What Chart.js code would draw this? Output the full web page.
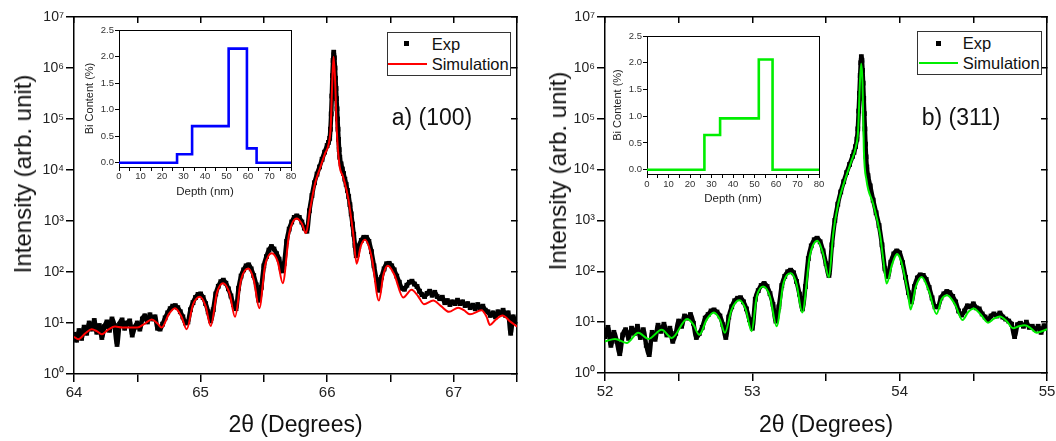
<!DOCTYPE html>
<html><head><meta charset="utf-8">
<script src="https://cdn.jsdelivr.net/npm/chart.js@4/dist/chart.umd.min.js"></script>
<style>
html,body{margin:0;padding:0;background:#fff;}
#wrap{position:relative;width:1056px;height:441px;overflow:hidden;font-family:"Liberation Sans",Arial,sans-serif;color:#111;}
canvas{position:absolute;}
.t{position:absolute;white-space:nowrap;line-height:1;}
.yt{position:absolute;white-space:nowrap;line-height:1;font-size:24px;transform:translate(-50%,-50%) rotate(-90deg);}
.lgbox{position:absolute;box-sizing:border-box;border:1px solid #333;background:#fff;}
.mk{position:absolute;background:#000;}
.ln{position:absolute;height:2px;}
</style></head>
<body><div id="wrap">
<canvas id="mainA" width="528" height="441" style="left:0;top:0;width:528px;height:441px"></canvas>
<canvas id="mainB" width="528" height="441" style="left:528px;top:0;width:528px;height:441px"></canvas>
<canvas id="insA" width="240" height="190" style="left:60px;top:20px;width:240px;height:190px"></canvas>
<canvas id="insB" width="240" height="190" style="left:590px;top:20px;width:240px;height:190px"></canvas>

<div class="yt" style="left:23px;top:174px">Intensity (arb. unit)</div>
<div class="yt" style="left:558px;top:171px">Intensity (arb. unit)</div>

<div class="lgbox" style="left:387px;top:32px;width:124px;height:44px"></div>
<div class="mk" style="left:404px;top:41px;width:5px;height:5px"></div>
<div class="t" style="left:431.7px;top:35.5px;font-size:16.5px">Exp</div>
<div class="ln" style="left:388px;top:62.7px;width:39px;background:#ff0000"></div>
<div class="t" style="left:431.7px;top:55.5px;font-size:16.5px">Simulation</div>

<div class="lgbox" style="left:917px;top:31px;width:125px;height:44px"></div>
<div class="mk" style="left:936px;top:40.5px;width:5px;height:5px"></div>
<div class="t" style="left:962.7px;top:34.8px;font-size:16.5px">Exp</div>
<div class="ln" style="left:919px;top:62px;width:39px;background:#00ee00"></div>
<div class="t" style="left:962.7px;top:54.8px;font-size:16.5px">Simulation</div>

<div class="t" style="left:391.7px;top:106.3px;font-size:23px">a) (100)</div>
<div class="t" style="left:921.7px;top:106.3px;font-size:23px">b) (311)</div>
</div>
<script>
// ---------- data ----------
const xTicksA = [64, 64.5, 65, 65.5, 66, 66.5, 67, 67.5];
const xTicksB = [52, 52.5, 53, 53.5, 54, 54.5, 55];
const yDecades = [1, 10, 100, 1000, 10000, 100000, 1000000, 10000000];
const depthTicks = [0,5,10,15,20,25,30,35,40,45,50,55,60,65,70,75,80];
const biTicks = [0,0.25,0.5,0.75,1,1.25,1.5,1.75,2,2.25,2.5];

// (100) simulation [2theta, intensity]
const simA = [[64.000,5.37],[64.034,4.79],[64.09,6.31],[64.140,7.52],[64.18,6.92],[64.219,6.03],[64.27,7.41],[64.324,8.51],[64.38,8.13],[64.427,8.13],[64.50,8.13],[64.56,9.77],[64.614,11.7],[64.66,9.77],[64.693,8.13],[64.75,15.1],[64.798,19.5],[64.85,13.2],[64.890,7.52],[64.94,22.9],[64.995,32.8],[65.04,21.4],[65.080,8.71],[65.13,39.8],[65.179,60.3],[65.23,37.2],[65.272,13.2],[65.32,70.8],[65.377,117],[65.42,70.8],[65.464,19.5],[65.51,135],[65.562,234],[65.61,158],[65.649,60.3],[65.70,562],[65.759,1122],[65.80,891],[65.833,575],[65.864,1622],[65.904,5370],[65.943,10715],[65.983,20893],[66.009,30200],[66.028,69183],[66.040,489779],[66.051,1659587],[66.064,489779],[66.075,69183],[66.096,13183],[66.127,7244],[66.167,2754],[66.206,562],[66.233,145],[66.265,316],[66.299,427],[66.352,195],[66.409,27.5],[66.445,89.1],[66.480,132],[66.53,89.1],[66.601,31.6],[66.667,44.7],[66.72,33.1],[66.765,23.4],[66.838,27.5],[66.90,21.4],[66.962,16.6],[67.036,20.0],[67.08,17.8],[67.128,14.8],[67.220,17.8],[67.26,13.2],[67.286,9.12],[67.33,11.5],[67.385,14.1],[67.45,10.5],[67.50,8.51]];

// (100) experiment
const expA = [[64.00,6.0],[64.02,4.6],[64.04,7.1],[64.06,5.0],[64.08,8.3],[64.10,6.3],[64.12,10.0],[64.14,7.6],[64.16,11.2],[64.18,6.6],[64.20,8.9],[64.22,5.2],[64.24,8.5],[64.26,10.5],[64.28,7.2],[64.30,12.0],[64.32,8.9],[64.34,3.8],[64.36,9.5],[64.38,11.5],[64.40,7.9],[64.42,10.0],[64.44,11.0],[64.46,5.8],[64.48,8.3],[64.50,10.0],[64.52,7.6],[64.54,12.0],[64.56,13.8],[64.58,10.5],[64.60,14.5],[64.62,12.0],[64.64,13.2],[64.66,7.9],[64.68,7.6],[64.70,9.5],
[64.72,12.6],[64.74,15.8],[64.76,19.1],[64.78,21.4],[64.80,21.9],[64.82,20.0],[64.84,16.6],[64.86,13.2],[64.88,10.0],[64.90,10.5],[64.92,18.2],[64.94,25.1],[64.96,31.6],[64.98,36.3],[65.00,37.2],[65.02,31.6],[65.04,24.0],[65.06,16.6],[65.08,11.0],[65.10,18.2],[65.12,37.2],[65.14,52.5],[65.16,64.6],[65.18,69.2],[65.20,60.3],[65.22,46.8],[65.24,33.9],[65.26,22.9],[65.28,19.1],[65.30,47.9],[65.32,83.2],[65.34,110],[65.36,132],[65.38,138],[65.40,115],[65.42,85],[65.44,56],[65.46,28],[65.48,50],[65.50,132],[65.52,200],[65.54,269],[65.56,316],[65.58,282],[65.60,229],[65.62,178],[65.64,105],[65.66,145],[65.68,398],[65.70,692],[65.72,955],[65.74,1175],[65.76,1259],[65.78,1175],[65.80,955],[65.82,724],[65.84,631],
[65.86,1585],[65.88,3162],[65.90,5623],[65.92,8318],[65.94,11482],[65.96,16218],[65.98,22387],[66.00,30200],[66.01,34674],[66.02,41687],[66.026,63096],[66.032,125893],[66.037,281838],[66.042,707946],[66.047,1412538],[66.052,2041738],[66.057,1584893],[66.062,1000000],[66.066,630957],[66.070,398107],[66.074,251189],[66.078,158489],[66.082,100000],[66.086,63096],[66.090,39811],[66.095,25119],[66.100,17783],[66.11,13183],[66.12,10471],[66.13,8511],[66.14,6607],[66.15,5248],[66.16,3981],[66.17,3020],[66.18,2089],[66.19,1380],[66.20,871],[66.21,550],[66.22,331],[66.23,209],[66.24,224],[66.25,316],[66.27,417],[66.29,479],[66.31,479],[66.33,398],[66.35,251],[66.37,132],[66.39,71],[66.41,44],[66.43,79],[66.45,115],[66.47,145],[66.49,148],[66.51,132],[66.53,110],[66.55,83],[66.57,63],[66.59,48],[66.61,46],[66.63,55],[66.65,63],[66.67,66],[66.69,58],[66.71,52],[66.73,42],[66.75,36],[66.77,33],[66.79,38],[66.81,42],[66.83,35],[66.85,40],[66.87,33],[66.89,30],[66.91,32],[66.93,25],[66.95,27.5],[66.97,23],[66.99,26],[67.01,24],[67.03,28],[67.05,24],[67.07,26],[67.09,22],[67.11,24],[67.13,20],[67.15,22.4],[67.17,19],[67.19,23],[67.21,20],[67.23,21.4],[67.25,17.8],[67.27,16.6],[67.29,14.1],[67.31,15.8],[67.33,13.2],[67.35,16.6],[67.37,15.1],[67.39,17.8],[67.41,14.1],[67.43,15.8],[67.45,6.3],[67.47,13.2],[67.49,10.5],[67.50,11.2]];

// (311) simulation
const simB = [[52.000,4.17],[52.068,4.68],[52.147,3.89],[52.226,6.17],[52.294,4.68],[52.385,7.08],[52.453,4.90],[52.558,11.5],[52.60,8.91],[52.640,5.62],[52.69,11.2],[52.739,15.5],[52.78,11.2],[52.814,6.17],[52.86,17.8],[52.911,26.9],[52.955,17.8],[52.995,6.61],[53.03,31.6],[53.074,50.1],[53.12,31.6],[53.165,8.32],[53.21,56.2],[53.262,91.2],[53.30,56.2],[53.339,15.5],[53.39,200],[53.442,398],[53.48,224],[53.520,75.9],[53.549,550],[53.583,2138],[53.628,6166],[53.674,15136],[53.703,28184],[53.718,58884],[53.730,489779],[53.739,1202264],[53.748,489779],[53.757,23988],[53.775,6166],[53.820,2138],[53.866,550],[53.89,158],[53.911,57.5],[53.95,141],[53.983,219],[54.01,158],[54.035,77.6],[54.055,39.8],[54.074,17.8],[54.11,50.1],[54.149,77.6],[54.20,39.8],[54.250,14.5],[54.285,28.2],[54.322,33.9],[54.375,22.4],[54.427,11.0],[54.465,15.8],[54.503,18.6],[54.55,14.1],[54.600,9.77],[54.64,11.7],[54.680,12.9],[54.725,10.5],[54.770,7.59],[54.81,8.32],[54.849,8.71],[54.89,7.59],[54.929,6.17],[54.965,6.61],[55.000,7.24]];

// (311) experiment
const expB = [[52.00,5.2],[52.02,7.9],[52.04,3.5],[52.06,6.3],[52.08,4.2],[52.10,2.4],[52.12,5.6],[52.14,7.1],[52.16,4.8],[52.18,7.6],[52.20,6.0],[52.22,8.3],[52.24,5.0],[52.26,7.1],[52.28,3.5],[52.30,2.3],[52.32,6.3],[52.34,4.6],[52.36,8.7],[52.38,6.6],[52.40,9.1],[52.42,5.6],[52.44,7.6],[52.46,4.2],[52.48,6.0],[52.50,10.5],[52.52,8.3],[52.54,13.2],[52.56,12.0],[52.58,14.1],[52.60,9.5],[52.62,5.0],[52.64,6.0],[52.66,7.9],[52.68,12.0],[52.70,14.1],[52.72,16.6],[52.74,17.4],[52.76,15.8],[52.78,13.2],[52.80,8.9],[52.82,5.0],[52.84,12.6],[52.86,20.0],[52.88,26.3],[52.90,29.5],[52.92,30.2],[52.94,25.1],[52.96,18.2],[52.98,11.2],[53.00,7.6],[53.02,28.2],[53.04,41.7],[53.06,52.5],[53.08,57.5],[53.10,50.1],[53.12,36.3],[53.14,22.4],[53.16,10.5],[53.18,20.0],[53.20,52.5],[53.22,79.4],[53.24,97.7],[53.26,105],[53.28,93.3],[53.30,63.1],[53.32,35.5],[53.34,18.2],[53.36,50.1],[53.38,178],[53.40,316],[53.42,417],[53.44,447],[53.46,380],[53.48,251],[53.50,141],[53.52,83],[53.54,331],[53.56,1000],[53.58,2089],[53.60,3631],[53.62,5754],[53.64,8710],[53.66,12589],[53.68,18197],[53.69,21878],[53.70,28184],[53.71,39811],[53.716,63096],[53.722,141254],[53.727,316228],[53.732,707946],[53.736,1258925],[53.740,1659587],[53.744,1412538],[53.748,891251],[53.752,501187],[53.756,251189],[53.760,125893],[53.764,63096],[53.768,31623],[53.772,17783],[53.777,11220],[53.785,7586],[53.80,4786],[53.82,2512],[53.84,1413],[53.86,794],[53.88,331],[53.90,112],[53.92,79],[53.94,151],[53.96,219],[53.98,251],[54.00,229],[54.02,148],[54.04,76],[54.06,38],[54.08,25],[54.10,50],[54.12,74],[54.14,85],[54.16,83],[54.18,69],[54.20,48],[54.22,30],[54.24,20],[54.26,20],[54.28,30],[54.30,36],[54.32,40],[54.34,38],[54.36,32],[54.38,25],[54.40,16.6],[54.42,13.8],[54.44,16.6],[54.46,20.9],[54.48,20.0],[54.50,22.9],[54.52,19.1],[54.54,18.2],[54.56,14.5],[54.58,12.6],[54.60,11.2],[54.62,13.2],[54.64,14.5],[54.66,13.2],[54.68,15.1],[54.70,12.6],[54.72,11.5],[54.74,10.5],[54.76,9.1],[54.78,5.2],[54.80,8.9],[54.82,9.5],[54.84,8.3],[54.86,10.0],[54.88,7.9],[54.90,8.3],[54.92,7.2],[54.94,8.3],[54.96,6.3],[54.98,8.5],[55.00,7.6]];

// inset depth profiles (step edges, nm) and Bi content (%)
const depthA = [0, 27, 34, 51, 59.5, 64, 80];
const biA    = [0, 0.16, 0.69, 2.15, 0.27, 0, 0];
const depthB = [0, 26.7, 34, 52, 58.4, 80];
const biB    = [0, 0.65, 0.96, 2.06, 0, 0];

// ---------- rendering ----------
const FONT = '"Liberation Sans", Arial, sans-serif';
Chart.defaults.font.family = FONT;
const SUP = ['⁰','¹','²','³','⁴','⁵','⁶','⁷'];
const pts = a => a.map(p => ({x: p[0], y: p[1]}));

function mainChart(id, sim, exp, simColor, xTicks, area, W, H) {
  const xmin = xTicks[0], xmax = xTicks[xTicks.length - 1];
  const brd = {color: '#000', width: 1.5};
  const setX = s => { s.ticks = xTicks.map(v => ({value: v})); };
  const setY = s => { s.ticks = yDecades.map(v => ({value: v})); };
  return new Chart(document.getElementById(id), {
    type: 'scatter',
    data: {datasets: [
      {label: 'Simulation', data: pts(sim), showLine: true, borderColor: simColor, borderWidth: 2,
       pointRadius: 0, cubicInterpolationMode: 'monotone', order: 0},
      {label: 'Exp', data: pts(exp), showLine: true, borderColor: '#000', backgroundColor: '#000',
       borderWidth: 4.5, pointStyle: 'rect', pointRadius: 3.4, pointBorderWidth: 0,
       cubicInterpolationMode: 'monotone', order: 1}
    ]},
    options: {
      responsive: false, animation: false, devicePixelRatio: 1,
      layout: {padding: 0},
      plugins: {legend: {display: false}, tooltip: {enabled: false}},
      scales: {
        x: {type: 'linear', position: 'bottom', min: xmin, max: xmax,
          afterBuildTicks: setX,
          afterFit: s => { s.height = H - area.bottom; s.paddingLeft = 0; s.paddingRight = 0; },
          ticks: {autoSkip: false, maxRotation: 0, minRotation: 0, padding: 2, color: '#222',
                  font: {size: 15}, callback: v => Number.isInteger(v) ? String(v) : ''},
          grid: {drawOnChartArea: false, tickLength: 8, color: '#000', lineWidth: 1.5},
          border: brd,
          title: {display: true, text: '2θ (Degrees)', color: '#111', font: {size: 23},
                  padding: {top: 0, bottom: 2}}},
        xTop: {type: 'linear', position: 'top', min: xmin, max: xmax,
          afterBuildTicks: setX,
          afterFit: s => { s.height = area.top; s.paddingLeft = 0; s.paddingRight = 0; },
          ticks: {display: false},
          grid: {drawOnChartArea: false, tickLength: -6, color: '#000', lineWidth: 1.5},
          border: brd},
        y: {type: 'logarithmic', position: 'left', min: 1, max: 1e7,
          afterBuildTicks: setY,
          afterFit: s => { s.width = area.left; s.paddingTop = 0; s.paddingBottom = 0; },
          ticks: {padding: 2, color: '#222', font: {size: 14},
                  callback: v => '10' + SUP[Math.round(Math.log10(v))]},
          grid: {drawOnChartArea: false, tickLength: 8, color: '#000', lineWidth: 1.5},
          border: brd},
        yRight: {type: 'logarithmic', position: 'right', min: 1, max: 1e7,
          afterBuildTicks: setY,
          afterFit: s => { s.width = W - area.right; s.paddingTop = 0; s.paddingBottom = 0; },
          ticks: {display: false},
          grid: {drawOnChartArea: false, tickLength: -6, color: '#000', lineWidth: 1.5},
          border: brd}
      }
    }
  });
}

function insetChart(id, depth, bi, color, area, W, H, pad) {
  const brd = {color: '#000', width: 1};
  return new Chart(document.getElementById(id), {
    type: 'scatter',
    data: {datasets: [{label: 'Bi', data: depth.map((d, i) => ({x: d, y: bi[i]})), showLine: true,
      stepped: true, borderColor: color, borderWidth: 2.6, pointRadius: 0}]},
    options: {
      responsive: false, animation: false, devicePixelRatio: 1,
      layout: {padding: 0},
      plugins: {legend: {display: false}, tooltip: {enabled: false}},
      scales: {
        x: {type: 'linear', position: 'bottom', min: 0, max: 80,
          afterBuildTicks: s => { s.ticks = depthTicks.map(v => ({value: v})); },
          afterFit: s => { s.height = H - area.bottom; s.paddingLeft = 0; s.paddingRight = 0; },
          ticks: {autoSkip: false, maxRotation: 0, minRotation: 0, padding: pad.xl, color: '#333',
                  font: {size: 9.5}, callback: v => (v % 10 === 0) ? String(v) : ''},
          grid: {drawOnChartArea: false, tickLength: 4, color: '#000', lineWidth: 1},
          border: brd,
          title: {display: true, text: 'Depth (nm)', color: '#222', font: {size: 11.5},
                  padding: {top: 0, bottom: pad.xt}}},
        xTop: {type: 'linear', position: 'top', min: 0, max: 80,
          afterFit: s => { s.height = area.top; s.paddingLeft = 0; s.paddingRight = 0; },
          ticks: {display: false}, grid: {display: false}, border: brd},
        y: {type: 'linear', position: 'left', min: -0.08, max: 2.5,
          afterBuildTicks: s => { s.ticks = biTicks.map(v => ({value: v})); },
          afterFit: s => { s.width = area.left; s.paddingTop = 0; s.paddingBottom = 0; },
          ticks: {padding: 1, color: '#333', font: {size: 9.5},
                  callback: v => (Math.abs(v * 2 - Math.round(v * 2)) < 1e-6) ? v.toFixed(1) : ''},
          grid: {drawOnChartArea: false, tickLength: 4, color: '#000', lineWidth: 1},
          border: brd,
          title: {display: true, text: 'Bi Content (%)', color: '#222', font: {size: 11},
                  padding: {top: pad.yt, bottom: 0}}},
        yRight: {type: 'linear', position: 'right', min: -0.08, max: 2.5,
          afterFit: s => { s.width = W - area.right; s.paddingTop = 0; s.paddingBottom = 0; },
          ticks: {display: false}, grid: {display: false}, border: brd}
      }
    }
  });
}

mainChart('mainA', simA, expA, '#ff0000', xTicksA, {left: 74, right: 517, top: 17, bottom: 374}, 528, 441);
mainChart('mainB', simB, expB, '#00ee00', xTicksB, {left: 77, right: 519, top: 17, bottom: 373}, 528, 441);
insetChart('insA', depthA, biA, '#0000ff', {left: 59, right: 231, top: 10, bottom: 147}, 240, 190, {xl: 0, xt: 11, yt: 23});
insetChart('insB', depthB, biB, '#00ee00', {left: 57, right: 229, top: 16, bottom: 154}, 240, 190, {xl: 0.5, xt: 4.5, yt: 21});
</script>
</body></html>
